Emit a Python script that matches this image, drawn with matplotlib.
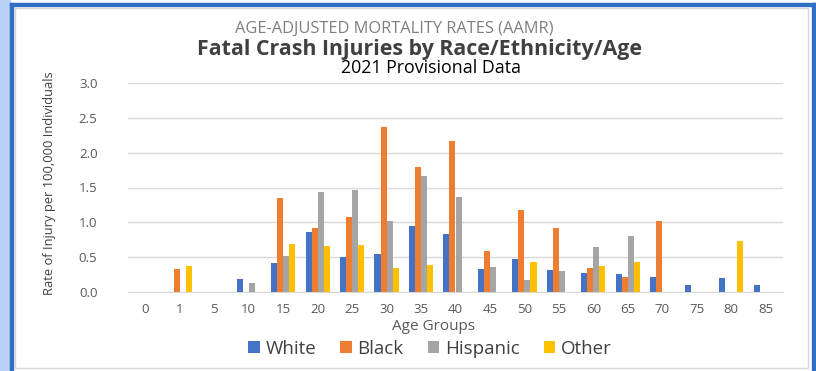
import numpy as np
import matplotlib
matplotlib.use("Agg")
import matplotlib.pyplot as plt
from matplotlib.patches import Rectangle

plt.rcParams['font.family'] = ['Open Sans', 'DejaVu Sans']

ages = ['0', '1', '5', '10', '15', '20', '25', '30', '35', '40', '45',
        '50', '55', '60', '65', '70', '75', '80', '85']
white = [0, 0, 0, 0.19, 0.42, 0.86, 0.50, 0.55, 0.95, 0.83, 0.33,
         0.47, 0.32, 0.27, 0.26, 0.22, 0.10, 0.20, 0.10]
black = [0, 0.33, 0, 0, 1.35, 0.92, 1.08, 2.37, 1.79, 2.17, 0.59,
         1.18, 0.92, 0.35, 0.21, 1.02, 0, 0, 0]
hispanic = [0, 0, 0, 0.13, 0.52, 1.44, 1.47, 1.02, 1.66, 1.37, 0.36,
            0.17, 0.30, 0.64, 0.81, 0, 0, 0, 0]
other = [0, 0.37, 0, 0, 0.69, 0.66, 0.67, 0.35, 0.39, 0, 0,
         0.43, 0, 0.38, 0.43, 0, 0, 0.73, 0]

series = [('White', white, '#4472C4'), ('Black', black, '#ED7D31'),
          ('Hispanic', hispanic, '#A5A5A5'), ('Other', other, '#FFC000')]

W, H = 816, 371
fig = plt.figure(figsize=(W / 100, H / 100), dpi=100)

# blue frame around the panel
fig.patches.append(Rectangle((0, 0), 10 / W, 1, transform=fig.transFigure,
                             color='#b9d0f7', zorder=0))
fig.patches.append(Rectangle((10 / W, 0), 3 / W, 1 - 3 / H, transform=fig.transFigure,
                             color='#2f6fc4', zorder=1))
fig.patches.append(Rectangle((10 / W, 1 - 6 / H), 1 - 10 / W, 3 / H,
                             transform=fig.transFigure, color='#2f6fc4', zorder=1))
fig.patches.append(Rectangle((812 / W, 0), 4 / W, 1 - 3 / H, transform=fig.transFigure,
                             color='#2f6fc4', zorder=1))
fig.patches.append(Rectangle((15 / W, 3 / H), 793 / W, 1 - 11 / H,
                             transform=fig.transFigure, fill=False,
                             edgecolor='#d6d6d6', lw=1, zorder=1))

ax = fig.add_axes([128 / W, (H - 292) / H, 655 / W, 209 / H])
x = np.arange(len(ages))
bw = 0.175
for i, (name, vals, col) in enumerate(series):
    ax.bar(x + (i - 1.5) * bw, vals, width=bw, color=col, label=name, zorder=3)

ax.set_xlim(-0.5, len(ages) - 0.5)
ax.set_ylim(0, 3.0)
ax.set_yticks(np.arange(0, 3.01, 0.5))
ax.set_yticklabels(['%.1f' % v for v in np.arange(0, 3.01, 0.5)])
ax.set_xticks(x)
ax.set_xticklabels(ages)
ax.tick_params(length=0, labelsize=9.5, labelcolor='#595959', pad=8)
ax.tick_params(axis='y', pad=22)
ax.grid(axis='y', color='#d9d9d9', lw=1, zorder=0)
for s in ['top', 'right', 'left']:
    ax.spines[s].set_visible(False)
ax.spines['bottom'].set_color('#d9d9d9')

fig.text(394 / W, 1 - 29 / H, 'AGE-ADJUSTED MORTALITY RATES (AAMR)', ha='center',
         va='center', fontsize=11.8, color='#7f7f7f')
fig.text(420 / W, 1 - 49 / H, 'Fatal Crash Injuries by Race/Ethnicity/Age', ha='center',
         va='center', fontsize=15.4, fontweight='bold', color='#404040')
fig.text(431 / W, 1 - 68 / H, '2021 Provisional Data', ha='center', va='center',
         fontsize=12.8, color='#000000')
fig.text(50 / W, 1 - 183 / H, 'Rate of Injury per 100,000 Individuals', rotation=90,
         ha='center', va='center', fontsize=9.3, color='#404040')
fig.text(434 / W, 1 - 327 / H, 'Age Groups', ha='center', va='center',
         fontsize=11, color='#595959')

handles, labels = ax.get_legend_handles_labels()
fig.legend(handles, labels, loc='center', bbox_to_anchor=(430 / W, 1 - 349 / H),
           ncol=4, frameon=False, fontsize=13.5, handlelength=0.6, handleheight=0.6,
           handletextpad=0.3, columnspacing=1.3, labelcolor='#404040')

fig.savefig('out.png', dpi=100)
